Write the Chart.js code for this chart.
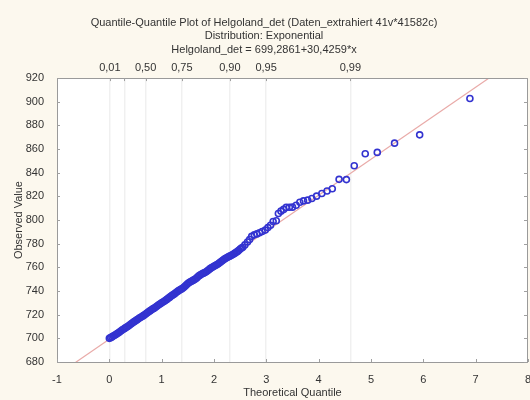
<!DOCTYPE html>
<html>
<head>
<meta charset="utf-8">
<script src="https://cdn.jsdelivr.net/npm/chart.js@4.4.0/dist/chart.umd.min.js"></script>
<style>
html,body{margin:0;padding:0;background:#fcf8ee;}
#wrap{width:530px;height:400px;}
</style>
</head>
<body>
<div id="wrap"><canvas id="c" width="530" height="400"></canvas></div>
<script>
const theoreticalQuantile = [
  0.000,0.025,0.050,0.075,0.100,0.125,0.150,0.175,0.200,0.225,
  0.250,0.275,0.300,0.325,0.350,0.375,0.400,0.425,0.450,0.475,
  0.500,0.525,0.550,0.575,0.600,0.625,0.650,0.675,0.700,0.725,
  0.750,0.775,0.800,0.825,0.850,0.875,0.900,0.925,0.950,0.975,
  1.000,1.025,1.050,1.075,1.100,1.125,1.150,1.175,1.200,1.225,
  1.250,1.275,1.300,1.325,1.350,1.375,1.400,1.425,1.450,1.475,
  1.500,1.525,1.550,1.575,1.600,1.625,1.650,1.675,1.700,1.725,
  1.750,1.775,1.800,1.825,1.850,1.875,1.900,1.925,1.950,1.975,
  2.000,2.025,2.050,2.075,2.100,2.125,2.150,2.175,2.200,2.225,
  2.250,2.275,2.300,2.325,2.350,2.375,2.400,2.425,2.450,2.475,
  2.500,2.525,2.55,2.59,2.64,2.68,2.72,2.77,2.82,2.87,2.92,
  2.98,3.03,3.08,3.13,3.19,3.23,3.28,3.33,3.38,3.44,
  3.50,3.57,3.64,3.71,3.79,3.87,3.96,4.06,4.16,4.26,
  4.39,4.53,4.68,4.89,5.12,5.45,5.93,6.89
];
const observedValue = [
  700.0,700.6,701.2,701.9,702.6,703.3,704.0,704.7,705.5,706.4,
  707.2,707.9,708.6,709.3,710.0,710.8,711.6,712.5,713.3,714.1,
  714.9,715.6,716.4,717.1,717.8,718.5,719.2,720.0,720.8,721.6,
  722.5,723.2,724.0,724.7,725.3,726.1,726.9,727.7,728.6,729.3,
  730.0,730.7,731.4,732.2,732.9,733.8,734.6,735.5,736.3,737.0,
  737.8,738.7,739.6,740.3,741.0,741.6,742.3,743.2,744.2,745.3,
  746.4,747.2,747.9,748.4,749.0,749.7,750.3,751.3,752.4,753.2,
  754.0,754.6,755.1,755.7,756.3,757.1,758.0,758.9,759.7,760.3,
  760.9,761.6,762.2,762.9,763.6,764.5,765.4,766.2,767.0,767.6,
  768.3,768.9,769.5,770.0,770.6,771.3,772.0,772.8,773.5,774.5,
  775.5,776.3,777.0,779.0,781.5,783.5,786.2,787.5,788.3,789.3,790.3,
  791.5,793.6,795.6,798.8,799.4,805.5,807.5,809.0,810.7,810.8,
  810.9,812.5,815.0,816.2,816.8,818.2,820.2,822.5,824.5,826.5,
  834.4,834.2,845.9,856.0,857.2,865.0,872.0,902.8
];
// Fitted line: Helgoland_det = 699,2861 + 30,4259*x
const fitIntercept = 699.2861;
const fitSlope = 30.4259;
const fitX = [-1, 8];
// Tick definitions
const xTicks = [-1,0,1,2,3,4,5,6,7,8];
const yTicks = [680,700,720,740,760,780,800,820,840,860,880,900,920];
const probValues = [0.01,0.25,0.50,0.75,0.90,0.95,0.99];
const probLabels = ['0,01','','0,50','0,75','0,90','0,95','0,99'];
const titleLines = [
  'Quantile-Quantile Plot of Helgoland_det (Daten_extrahiert 41v*41582c)',
  'Distribution: Exponential',
  'Helgoland_det = 699,2861+30,4259*x'
];

const FONT = '"Liberation Sans", Arial, sans-serif';
const TXT = '#333333';

const points = theoreticalQuantile.map((x,i)=>({x:x,y:observedValue[i]}));
const fitLine = fitX.map(x=>({x:x,y:fitIntercept+fitSlope*x}));

const framePlugin = {
  id:'frame',
  beforeDraw(chart){
    const {ctx, chartArea:a} = chart;
    ctx.save();
    ctx.fillStyle = '#ffffff';
    ctx.fillRect(a.left, a.top, a.right-a.left, a.bottom-a.top);
    ctx.restore();
  },
  afterDraw(chart){
    const {ctx, chartArea:a, scales} = chart;
    ctx.save();
    ctx.strokeStyle = '#9a9a9a';
    ctx.lineWidth = 1;
    ctx.strokeRect(Math.round(a.left)+0.5, Math.round(a.top)+0.5, Math.round(a.right-a.left)-1, Math.round(a.bottom-a.top));
    ctx.strokeStyle = '#a0a0a0';
    xTicks.forEach(v=>{
      const px = Math.round(scales.x.getPixelForValue(v))+0.5;
      ctx.beginPath(); ctx.moveTo(px, a.bottom); ctx.lineTo(px, a.bottom-3); ctx.stroke();
    });
    yTicks.forEach(v=>{
      const py = Math.round(scales.y.getPixelForValue(v))+0.5;
      ctx.beginPath(); ctx.moveTo(a.left, py); ctx.lineTo(a.left+3, py); ctx.stroke();
      ctx.beginPath(); ctx.moveTo(a.right, py); ctx.lineTo(a.right-4, py); ctx.stroke();
    });
    probValues.forEach(p=>{
      const px = Math.round(scales.x2.getPixelForValue(-Math.log(1-p)))+0.5;
      ctx.beginPath(); ctx.moveTo(px, a.top); ctx.lineTo(px, a.top+3); ctx.stroke();
    });
    ctx.restore();
  }
};

new Chart(document.getElementById('c'), {
  type:'scatter',
  data:{
    datasets:[
      {
        label:'Observed',
        data:points,
        showLine:false,
        pointStyle:'circle',
        pointRadius:3,
        pointBorderWidth:1.6,
        pointBorderColor:'#3333d0',
        pointBackgroundColor:'rgba(0,0,0,0)'
      },
      {
        label:'Fit',
        type:'line',
        data:fitLine,
        borderColor:'#e9aaa8',
        borderWidth:1.2,
        pointRadius:0,
        fill:false
      }
    ]
  },
  options:{
    responsive:false,
    animation:false,
    events:[],
    layout:{autoPadding:false,padding:{left:0,right:2,top:0,bottom:0}},
    plugins:{
      legend:{display:false},
      tooltip:{enabled:false},
      title:{
        display:true,
        text:titleLines,
        color:TXT,
        font:{family:FONT,size:11,weight:'normal',lineHeight:1.23},
        padding:{top:16,bottom:0}
      }
    },
    scales:{
      x:{
        type:'linear', position:'bottom', min:-1, max:8,
        afterBuildTicks(s){ s.ticks = xTicks.map(v=>({value:v})); },
        afterFit(s){ s.height = 38; s.paddingLeft = 0; s.paddingRight = 0; },
        grid:{display:false},
        border:{display:false},
        ticks:{color:TXT,font:{family:FONT,size:11},padding:3,maxRotation:0},
        title:{display:true,text:'Theoretical Quantile',color:TXT,font:{family:FONT,size:11},padding:{top:0,bottom:0}}
      },
      x2:{
        type:'linear', position:'top', min:-1, max:8,
        afterBuildTicks(s){ s.ticks = probValues.map(p=>({value:-Math.log(1-p)})); },
        afterFit(s){ s.height = 21.5; s.paddingLeft = 0; s.paddingRight = 0; },
        grid:{display:true,drawOnChartArea:true,drawTicks:false,color:'rgba(0,0,0,0.06)',lineWidth:1.5},
        border:{display:false},
        ticks:{color:TXT,font:{family:FONT,size:11},padding:4,maxRotation:0,autoSkip:false,
          callback:(v,i)=>probLabels[i]}
      },
      y:{
        type:'linear', position:'left', min:680, max:920,
        afterBuildTicks(s){ s.ticks = yTicks.map(v=>({value:v})); },
        afterFit(s){ s.width = 57; s.paddingTop = 0; s.paddingBottom = 0; },
        grid:{display:false},
        border:{display:false},
        ticks:{color:TXT,font:{family:FONT,size:11},padding:5},
        title:{display:true,text:'Observed Value',color:TXT,font:{family:FONT,size:11},padding:{top:12,bottom:0}}
      }
    }
  },
  plugins:[framePlugin]
});
</script>
</body>
</html>
